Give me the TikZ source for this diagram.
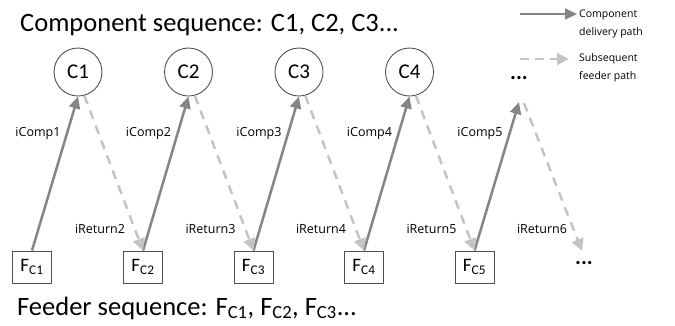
\documentclass[tikz,border=0pt]{standalone}
\usepackage{fontspec}
\setmainfont{Carlito}
\newfontfamily\lblfont{Open Sans}
\usetikzlibrary{arrows.meta,calc}
\definecolor{solidgray}{HTML}{858585}
\definecolor{dashgray}{HTML}{C4C4C4}
\definecolor{edgegray}{HTML}{505050}
\tikzset{
  comp/.style={circle,draw=edgegray,line width=0.9pt,minimum size=48pt,inner sep=0pt,font=\fontsize{21}{24}\selectfont},
  feeder/.style={rectangle,draw=edgegray,line width=0.9pt,minimum width=39pt,minimum height=32pt,inner sep=0pt,font=\fontsize{19}{22}\selectfont},
  deliver/.style={draw=solidgray,line width=2.5pt,-{Triangle[length=12pt,width=11pt]}},
  returnpath/.style={draw=dashgray,line width=2.5pt,dash pattern=on 9pt off 7pt,-{Triangle[length=12pt,width=12pt]}},
  lbl/.style={font=\lblfont\fontsize{12.5}{14}\selectfont,inner sep=0pt},
  legendtxt/.style={font=\lblfont\fontsize{10.5}{18}\selectfont,inner sep=0pt,align=left,anchor=west},
  bigtxt/.style={font=\fontsize{26.5}{30}\selectfont,inner sep=0pt,anchor=base west}
}
\begin{document}
\begin{tikzpicture}[x=1pt,y=-1pt]
\useasboundingbox (0,0) rectangle (675,325);
% titles
\node[bigtxt] (title) at (20,31) {Component sequence: C1, C2, C3...};
\node[bigtxt] (ftitle) at (17,315) {Feeder sequence: F\textsubscript{C1}, F\textsubscript{C2}, F\textsubscript{C3}...};
% circles
\node[comp] (C1) at (78,72) {C1};
\node[comp] (C2) at (188.5,72) {C2};
\node[comp] (C3) at (299,72) {C3};
\node[comp] (C4) at (409.5,72) {C4};
\node[font=\bfseries\fontsize{22}{24}\selectfont,inner sep=0pt] (D5) at (519,78) {...};
\coordinate (c5) at (519,102);
\coordinate (c5r) at (524,103);
% feeders
\node[feeder] (F1) at (32,267) {F\textsubscript{C1}};
\node[feeder] (F2) at (143,267) {F\textsubscript{C2}};
\node[feeder] (F3) at (253.5,267) {F\textsubscript{C3}};
\node[feeder] (F4) at (364,267) {F\textsubscript{C4}};
\node[feeder] (F5) at (474.5,267) {F\textsubscript{C5}};
\node[font=\bfseries\fontsize{22}{24}\selectfont,inner sep=0pt] (D6) at (584,263) {...};
\coordinate (e6) at (582,251);
% delivery paths
\draw[deliver] (F1.north) -- (C1.south);
\draw[deliver] (F2.north) -- (C2.south);
\draw[deliver] (F3.north) -- (C3.south);
\draw[deliver] (F4.north) -- (C4.south);
\draw[deliver] (F5.north) -- (c5);
% return paths
\draw[returnpath] (C1.-75) -- (F2.north);
\draw[returnpath] (C2.-75) -- (F3.north);
\draw[returnpath] (C3.-75) -- (F4.north);
\draw[returnpath] (C4.-75) -- (F5.north);
\draw[returnpath] (c5r) -- (e6);
% labels
\node[lbl] (l1) at (38,133) {iComp1};
\node[lbl] (l2) at (148.5,133) {iComp2};
\node[lbl] (l3) at (259,133) {iComp3};
\node[lbl] (l4) at (369.5,133) {iComp4};
\node[lbl] (l5) at (480,133) {iComp5};
\node[lbl] (r2) at (100,229) {iReturn2};
\node[lbl] (r3) at (210.5,229) {iReturn3};
\node[lbl] (r4) at (321,229) {iReturn4};
\node[lbl] (r5) at (431.5,229) {iReturn5};
\node[lbl] (r6) at (542,229) {iReturn6};
% legend
\coordinate (ls1) at (520,14);
\coordinate (le1) at (577,14);
\coordinate (ls2) at (520,59);
\coordinate (le2) at (569,59);
\draw[deliver,line width=2pt] (ls1) -- (le1);
\draw[returnpath,line width=2pt,dash pattern=on 9pt off 6pt] (ls2) -- (le2);
\node[legendtxt] (lt1) at (579,24) {Component\\delivery path};
\node[legendtxt] (lt2) at (579,68) {Subsequent\\feeder path};
\end{tikzpicture}
\end{document}
